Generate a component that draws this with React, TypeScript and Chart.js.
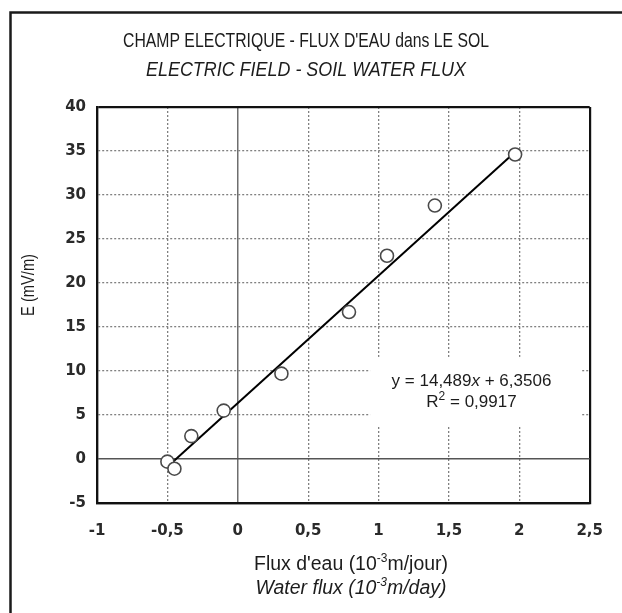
import React, { useEffect, useRef } from "react";
import { Chart, registerables } from "chart.js";

Chart.register(...registerables);

// ---- data ----
const fluxX = [-0.5, -0.45, -0.33, -0.1, 0.31, 0.79, 1.06, 1.4, 1.97];
const fieldE = [-0.3, -1.1, 2.6, 5.5, 9.7, 16.7, 23.1, 28.8, 34.6];
const trendX = [-0.47, 1.98];
const trendY = [-0.46, 35.04];
const xTickLabels = ["-1", "-0,5", "0", "0,5", "1", "1,5", "2", "2,5"];
const yTickLabels = ["-5", "0", "5", "10", "15", "20", "25", "30", "35", "40"];
const titleFr = "CHAMP ELECTRIQUE - FLUX D'EAU dans LE SOL";
const titleEn = "ELECTRIC FIELD - SOIL WATER FLUX";
const yTitle = "E (mV/m)";
const xTitleFr = ["Flux d'eau (10", "-3", "m/jour)"];
const xTitleEn = ["Water flux (10", "-3", "m/day)"];
const eqParts = ["y = 14,489", "x", " + 6,3506"];
const r2Parts = ["R", "2", " = 0,9917"];

const FAM = "'Liberation Sans', Arial, Helvetica, sans-serif";
const TXT = "#1c1c1c";

type Part = { t: string; font: string; dy?: number };

function drawRich(ctx: CanvasRenderingContext2D, parts: Part[], cx: number, baseY: number, maxWidth?: number) {
  const widths = parts.map((p) => {
    ctx.font = p.font;
    return ctx.measureText(p.t).width;
  });
  const total = widths.reduce((a, b) => a + b, 0);
  const s = maxWidth && total > maxWidth ? maxWidth / total : 1;
  ctx.save();
  ctx.translate(cx, baseY);
  ctx.scale(s, 1);
  ctx.textAlign = "left";
  ctx.textBaseline = "alphabetic";
  ctx.fillStyle = TXT;
  let xx = -total / 2;
  parts.forEach((p, i) => {
    ctx.font = p.font;
    ctx.fillText(p.t, xx, p.dy || 0);
    xx += widths[i];
  });
  ctx.restore();
}

const decorPlugin = {
  id: "decor",
  beforeDraw(chart: any) {
    const ctx: CanvasRenderingContext2D = chart.ctx;
    ctx.save();
    ctx.fillStyle = "#ffffff";
    ctx.fillRect(0, 0, chart.width, chart.height);
    ctx.strokeStyle = "#1a1a1a";
    ctx.lineWidth = 2.5;
    ctx.beginPath();
    ctx.moveTo(10.5, chart.height + 10);
    ctx.lineTo(10.5, 12.5);
    ctx.lineTo(chart.width + 10, 12.5);
    ctx.stroke();
    ctx.restore();
  },
  beforeDatasetsDraw(chart: any) {
    const ctx: CanvasRenderingContext2D = chart.ctx;
    const xs = chart.scales.x;
    const ys = chart.scales.y;
    const l = xs.getPixelForValue(0.94);
    const r = xs.getPixelForValue(2.44);
    const t = ys.getPixelForValue(11.6);
    const b = ys.getPixelForValue(3.8);
    ctx.save();
    ctx.fillStyle = "#ffffff";
    ctx.fillRect(l, t, r - l, b - t);
    ctx.restore();
    const cx = xs.getPixelForValue(1.66);
    drawRich(
      ctx,
      [
        { t: eqParts[0], font: `17px ${FAM}` },
        { t: eqParts[1], font: `italic 17px ${FAM}` },
        { t: eqParts[2], font: `17px ${FAM}` },
      ],
      cx,
      ys.getPixelForValue(8.3),
      162
    );
    drawRich(
      ctx,
      [
        { t: r2Parts[0], font: `17px ${FAM}` },
        { t: r2Parts[1], font: `12px ${FAM}`, dy: -7 },
        { t: r2Parts[2], font: `17px ${FAM}` },
      ],
      cx,
      ys.getPixelForValue(5.9),
      96
    );
  },
  afterDraw(chart: any) {
    const ctx: CanvasRenderingContext2D = chart.ctx;
    drawRich(ctx, [{ t: titleFr, font: `20.5px ${FAM}` }], 306, 47, 366);
    drawRich(ctx, [{ t: titleEn, font: `italic 19.5px ${FAM}` }], 306, 76, 320);
    drawRich(
      ctx,
      [
        { t: xTitleFr[0], font: `19.5px ${FAM}` },
        { t: xTitleFr[1], font: `12px ${FAM}`, dy: -8 },
        { t: xTitleFr[2], font: `19.5px ${FAM}` },
      ],
      351,
      570,
      194
    );
    drawRich(
      ctx,
      [
        { t: xTitleEn[0], font: `italic 19.5px ${FAM}` },
        { t: xTitleEn[1], font: `italic 12px ${FAM}`, dy: -8 },
        { t: xTitleEn[2], font: `italic 19.5px ${FAM}` },
      ],
      351,
      594,
      191
    );
    ctx.save();
    ctx.translate(29, 285);
    ctx.rotate(-Math.PI / 2);
    ctx.font = `19px ${FAM}`;
    ctx.fillStyle = TXT;
    ctx.textAlign = "center";
    ctx.textBaseline = "middle";
    ctx.fillText(yTitle, 0, 0, 62);
    ctx.restore();
  },
};

const EDGE = [-1, 2.5, -5, 40];
const gridDash = (c: any) => {
  if (!c || c.type !== "tick" || !c.tick) return [];
  const v = c.tick.value;
  return v === 0 || EDGE.includes(v) ? [] : [2, 2];
};

export default function App() {
  const ref = useRef<HTMLCanvasElement | null>(null);
  useEffect(() => {
    if (!ref.current) return;
    const tickFont = { family: "'DejaVu Sans', sans-serif", weight: "bold" as const, size: 15 };
    const chart = new Chart(ref.current, {
      type: "scatter",
      data: {
        datasets: [
          {
            type: "line",
            label: "trend",
            data: trendX.map((x, i) => ({ x, y: trendY[i] })),
            borderColor: "#000000",
            borderWidth: 2,
            pointRadius: 0,
            showLine: true,
            fill: false,
            order: 2,
          } as any,
          {
            label: "E",
            data: fluxX.map((x, i) => ({ x, y: fieldE[i] })),
            pointRadius: 6.5,
            pointBorderWidth: 1.6,
            borderColor: "#4a4a4a",
            backgroundColor: "#ffffff",
            pointStyle: "circle",
            order: 1,
          },
        ],
      },
      options: {
        animation: false,
        responsive: false,
        layout: { padding: { top: 107, right: 32, left: 0, bottom: 0 } },
        plugins: { legend: { display: false }, tooltip: { enabled: false }, title: { display: false } },
        scales: {
          x: {
            type: "linear",
            min: -1,
            max: 2.5,
            afterFit: (s: any) => {
              s.height = 110;
            },
            ticks: {
              stepSize: 0.5,
              padding: 19,
              color: "#2a2a2a",
              font: tickFont,
              callback: (_v: any, i: number) => xTickLabels[i],
            },
            grid: {
              drawTicks: false,
              color: (c: any) => {
                const v = c.tick ? c.tick.value : null;
                if (v === 0) return "#6e6e6e";
                if (v === 2.5 || v === -1) return "#111111";
                return "#808080";
              },
              lineWidth: (c: any) => {
                const v = c.tick ? c.tick.value : null;
                if (v === 0) return 1.5;
                if (v === 2.5 || v === -1) return 2.2;
                return 1.3;
              },
            },
            border: { display: true, color: "#111111", width: 2.2, dash: gridDash as any },
          },
          y: {
            type: "linear",
            min: -5,
            max: 40,
            afterFit: (s: any) => {
              s.width = 97;
            },
            ticks: {
              stepSize: 5,
              padding: 11,
              color: "#2a2a2a",
              font: tickFont,
              callback: (_v: any, i: number) => yTickLabels[i],
            },
            grid: {
              drawTicks: false,
              color: (c: any) => {
                const v = c.tick ? c.tick.value : null;
                if (v === 0) return "#555555";
                if (v === 40 || v === -5) return "#111111";
                return "#808080";
              },
              lineWidth: (c: any) => {
                const v = c.tick ? c.tick.value : null;
                if (v === 0) return 1.5;
                if (v === 40 || v === -5) return 2.2;
                return 1.3;
              },
            },
            border: { display: true, color: "#111111", width: 2.2, dash: gridDash as any },
          },
        },
      },
      plugins: [decorPlugin as any],
    });
    return () => chart.destroy();
  }, []);
  return (
    <div style={{ position: "absolute", left: 0, top: 0, width: 622, height: 613 }}>
      <canvas ref={ref} width={622} height={613} style={{ display: "block" }} />
    </div>
  );
}
